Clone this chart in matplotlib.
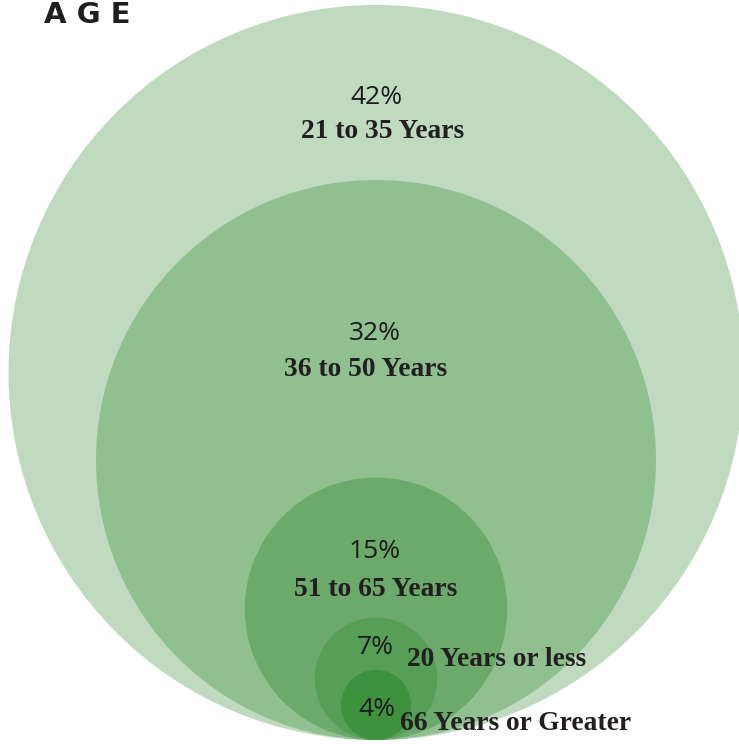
import matplotlib
matplotlib.use("Agg")
import matplotlib.pyplot as plt
from matplotlib.patches import Circle

# Data
categories = ["21 to 35 Years", "36 to 50 Years", "51 to 65 Years",
              "20 Years or less", "66 Years or Greater"]
percent = [42, 32, 15, 7, 4]

# Styling / layout (not data)
colors = ["#C0DAC0", "#90BF90", "#6BAA6B", "#579F57", "#3E913E"]
W, H = 739, 744
px_per_pct = 8.75          # radius proportional to value
tangent_x, tangent_y = 376, 740
pct_pos = [(376, 98), (375, 333), (375, 551), (375, 648), (377, 710)]
lab_pos = [(383, 131, "center"), (366, 370, "center"), (376, 589, "center"),
           (407, 659, "left"), (400, 723, "left")]

fig = plt.figure(figsize=(W / 100, H / 100), dpi=100)
ax = fig.add_axes([0, 0, 1, 1])
ax.set_xlim(0, W)
ax.set_ylim(H, 0)
ax.set_aspect("equal")
ax.axis("off")

for p, c in zip(percent, colors):
    r = p * px_per_pct
    ax.add_patch(Circle((tangent_x, tangent_y - r), r, facecolor=c,
                        edgecolor="none", zorder=1))

for p, cat, (px, py), (lx, ly, ha) in zip(percent, categories, pct_pos, lab_pos):
    ax.text(px, py, f"{p}%", ha="center", va="center", fontsize=19,
            family="Open Sans", color="#1a1a1a", zorder=3)
    ax.text(lx, ly, cat, ha=ha, va="center", fontsize=19.8,
            family="Liberation Serif", fontweight="bold", color="#231f20", zorder=3)

ax.text(44, 23, "A G E", ha="left", va="baseline", fontsize=21,
        family="DejaVu Sans", fontweight="heavy", color="#1f1f1f", zorder=3)

fig.savefig("out.png", dpi=100)
